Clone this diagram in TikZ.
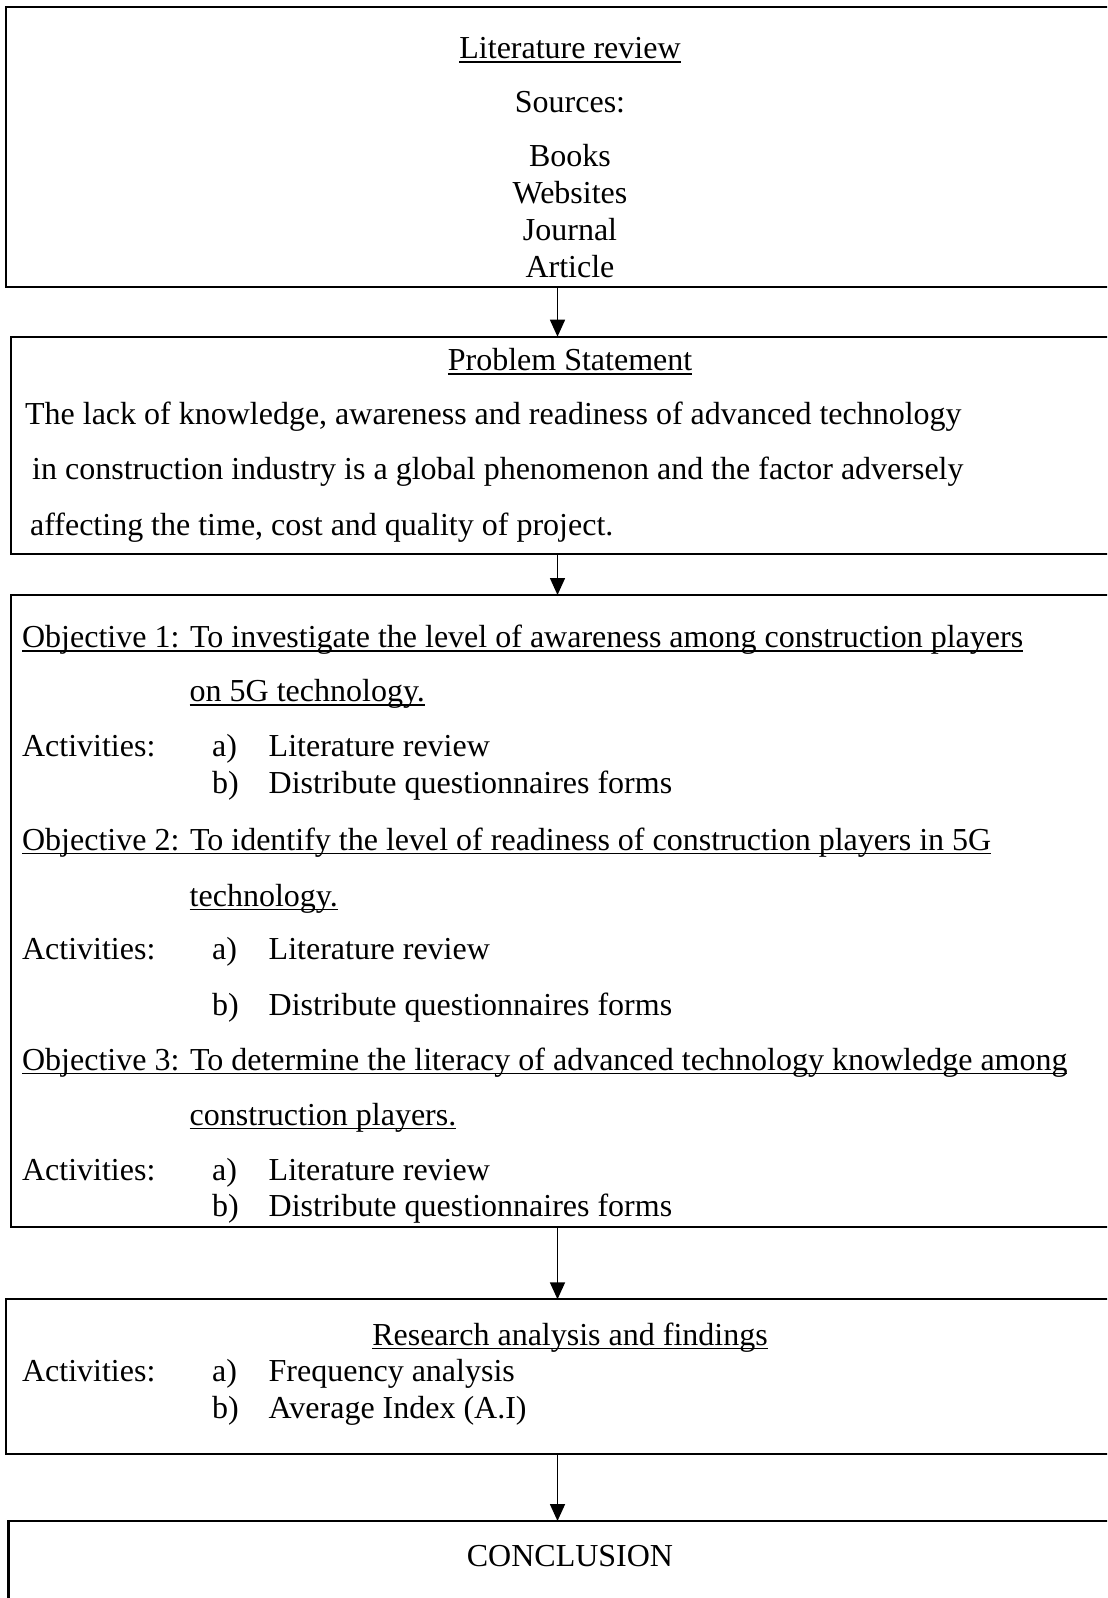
\documentclass[tikz,border=0pt]{standalone}
\usepackage{fontspec}
\setmainfont{Liberation Serif}
\usepackage{tikz}
\usetikzlibrary{arrows.meta,positioning}
\newsavebox{\fculbox}
\newcommand{\fcul}[1]{\sbox{\fculbox}{#1}\rlap{\rule[-2.2pt]{\wd\fculbox}{0.95pt}}\usebox{\fculbox}}
\tikzset{
  every picture/.append style={line cap=butt,line join=miter},
  fc box/.style={draw,line width=1.1pt,anchor=north west,inner sep=0pt,outer sep=0pt},
  fc text/.style={font=\fontsize{16pt}{18.4pt}\selectfont,inner sep=0pt},
  fc title/.style={fc text,anchor=base},
  fc line/.style={fc text,anchor=base west},
  fc arrow/.style={line width=0.8pt,-{Triangle[length=8.5pt,width=7.5pt]}}
}
\begin{document}
\begin{tikzpicture}[x=0.5pt,y=-0.5pt]
  \useasboundingbox (0,0) rectangle (1107,1598);
  \clip (0,0) rectangle (1107,1598);
  \coordinate (axis) at (557.5,0);
  % boxes (right sides run past the page edge)
  \node[fc box,minimum width=557pt,minimum height=140.2pt] (lit) at (5.6,6.7) {};
  \node[fc box,minimum width=555pt,minimum height=108.7pt] (prob) at (10.6,336.7) {};
  \node[fc box,minimum width=555pt,minimum height=315.8pt] (obj) at (11,595) {};
  \node[fc box,minimum width=557pt,minimum height=77.5pt] (ana) at (5.7,1299.3) {};
  \node[fc box,minimum width=557pt,minimum height=60pt] (concl) at (8.5,1521) {};
  % literature review
  \node[fc title] (litT) at (570,58.3) {\fcul{Literature review}};
  \node[fc title] (src) at (570,113) {Sources:};
  \foreach \y/\s [count=\i] in {166.7/Books,204/Websites,240.7/Journal,277.3/Article}
    \node[fc title] (src\i) at (570,\y) {\s};
  % problem statement
  \node[fc title] (probT) at (570,370.7) {\fcul{Problem Statement}};
  \node[fc line] (prob1) at (24.7,425) {The lack of knowledge, awareness and readiness of advanced technology};
  \node[fc line] (prob2) at (31.8,479.3) {in construction industry is a global phenomenon and the factor adversely};
  \node[fc line] (prob3) at (29.7,535) {affecting the time, cost and quality of project.};
  % objectives
  \node[fc line] (obj1) at (21.7,647.3) {\fcul{Objective 1: To investigate the level of awareness among construction players}};
  \node[fc line] (obj1b) at (189.3,701.7) {\fcul{on 5G technology.}};
  \node[fc line] (obj2) at (21.7,850) {\fcul{Objective 2: To identify the level of readiness of construction players in 5G}};
  \node[fc line] (obj2b) at (189.3,906) {\fcul{technology.}};
  \node[fc line] (obj3) at (21.7,1070) {\fcul{Objective 3: To determine the literacy of advanced technology knowledge among}};
  \node[fc line] (obj3b) at (189.3,1125) {\fcul{construction players.}};
  % analysis and conclusion
  \node[fc title] (anaT) at (570,1345) {\fcul{Research analysis and findings}};
  \node[fc title] (conclT) at (570,1566.7) {CONCLUSION};
  % activity lists
  \foreach \y [count=\i] in {756.7,959,1180,1381.7}
    \node[fc line] (act\i) at (21.7,\y) {Activities:};
  \foreach \y/\mk/\tx [count=\i] in {756.7/{a)}/Literature review,793.3/{b)}/Distribute questionnaires forms,
      959/{a)}/Literature review,1015/{b)}/Distribute questionnaires forms,
      1180/{a)}/Literature review,1216.7/{b)}/Distribute questionnaires forms,
      1381.7/{a)}/Frequency analysis,1418/{b)}/Average Index (A.I)} {
    \node[fc line] (mark\i) at (211.7,\y) {\mk};
    \node[fc line] (item\i) at (268.3,\y) {\tx};
  }
  % connectors
  \draw[fc arrow] (lit.south -| axis) -- (prob.north -| axis);
  \draw[fc arrow] (prob.south -| axis) -- (obj.north -| axis);
  \draw[fc arrow] (obj.south -| axis) -- (ana.north -| axis);
  \draw[fc arrow] (ana.south -| axis) -- (concl.north -| axis);
\end{tikzpicture}
\end{document}
